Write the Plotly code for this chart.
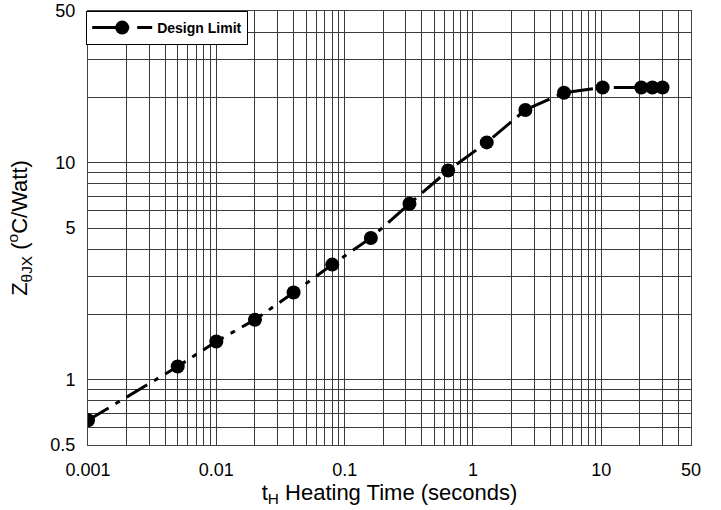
import numpy as np
import plotly.graph_objects as go

# Data
heating_time_s = [0.001, 0.005, 0.01, 0.02, 0.04, 0.08, 0.16, 0.32, 0.64,
                  1.28, 2.56, 5.12, 10.24, 20.48, 25, 30]
z_ejx = [0.65, 1.15, 1.50, 1.89, 2.52, 3.39, 4.5, 6.47, 9.2,
         12.4, 17.5, 21.0, 22.2, 22.2, 22.2, 22.2]
series_name = "Design Limit"

# Axis tick labels and grid lines
x_tick_vals = [0.001, 0.01, 0.1, 1, 10, 50]
x_tick_text = ["0.001", "0.01", "0.1", "1", "10", "50"]
x_minor_vals = [m * 10.0 ** d for d in range(-3, 2) for m in range(2, 10)] + [20, 30, 40]
y_tick_vals = [0.5, 1, 5, 10, 50]
y_tick_text = ["0.5", "1", "5", "10", "50"]
y_minor_vals = [0.6, 0.7, 0.8, 0.9, 2, 3, 4, 6, 7, 8, 9, 20, 30, 40]

FONT = "Liberation Sans, Arial, sans-serif"

fig = go.Figure()
fig.add_trace(go.Scatter(
    x=heating_time_s, y=z_ejx, name=series_name,
    mode="lines+markers",
    line=dict(color="black", width=3, dash="24px,8px,5px,8px"),
    marker=dict(color="black", size=14, symbol="circle"),
))

grid_col = "#3a3a3a"
fig.update_layout(
    width=721, height=510,
    margin=dict(l=88, r=30, t=11, b=65),
    paper_bgcolor="white", plot_bgcolor="white",
    font=dict(family=FONT, color="black"),
    showlegend=True,
    legend=dict(x=-0.003, y=1.0, xanchor="left", yanchor="top",
                bgcolor="white", bordercolor="black", borderwidth=1,
                font=dict(family=FONT, size=14, color="black", weight="bold"),
                entrywidth=128, itemwidth=60),
)
fig.update_xaxes(
    type="log", range=[np.log10(0.001), np.log10(50)], automargin=False,
    tickmode="array", tickvals=x_tick_vals, ticktext=x_tick_text,
    showgrid=True, gridcolor=grid_col, gridwidth=1,
    minor=dict(tickmode="array", tickvals=x_minor_vals, showgrid=True,
               gridcolor=grid_col, gridwidth=1, ticks=""),
    showline=True, linecolor="#444", linewidth=1, mirror=True,
    ticks="", ticklabelstandoff=8,
    tickfont=dict(family=FONT, size=18, color="black"),
    title=dict(text="t<sub>H</sub> Heating Time (seconds)",
               font=dict(family=FONT, size=22, color="black"), standoff=4),
    zeroline=False,
)
fig.update_yaxes(
    type="log", range=[np.log10(0.5), np.log10(50)], automargin=False,
    tickmode="array", tickvals=y_tick_vals, ticktext=y_tick_text,
    showgrid=True, gridcolor=grid_col, gridwidth=1,
    minor=dict(tickmode="array", tickvals=y_minor_vals, showgrid=True,
               gridcolor=grid_col, gridwidth=1, ticks=""),
    showline=True, linecolor="#444", linewidth=1, mirror=True,
    ticks="", ticklabelstandoff=8,
    tickfont=dict(family=FONT, size=18, color="black"),
    title=dict(text="Z<sub>θJX</sub> (<sup>o</sup>C/Watt)",
               font=dict(family=FONT, size=22, color="black"), standoff=16),
    zeroline=False,
)

fig.write_html("out.html", config={"displayModeBar": False},
               post_script="document.body.style.margin='0';")
